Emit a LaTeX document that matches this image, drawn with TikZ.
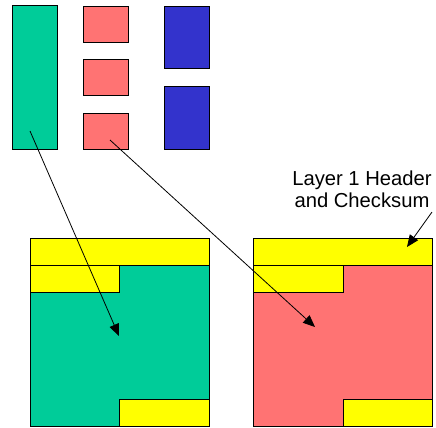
\documentclass[tikz,border=0pt]{standalone}
\usepackage{fontspec}
\setmainfont{Liberation Sans}
\usetikzlibrary{arrows.meta}
\definecolor{cgreen}{HTML}{00CC99}
\definecolor{cpink}{HTML}{FF7373}
\definecolor{cblue}{HTML}{3333CC}
\definecolor{cyellow}{HTML}{FFFF00}
\begin{document}
\begin{tikzpicture}[x=1bp,y=-1bp,
  blk/.style={draw=black,line width=0.9bp,anchor=north west,inner sep=0pt,outer sep=0pt},
  conn/.style={draw=black,line width=0.8bp,-{Triangle[length=12bp,width=10bp]}},
  lbl/.style={font=\fontsize{20.3}{22}\selectfont,align=center,inner sep=0pt}]
\useasboundingbox (0,0) rectangle (436,427);
% top row
\node[blk,fill=cgreen,minimum width=45bp,minimum height=144bp] (g) at (12,5) {};
\node[blk,fill=cpink,minimum width=45bp,minimum height=36bp] (p1) at (83,6) {};
\node[blk,fill=cpink,minimum width=45bp,minimum height=36bp] (p2) at (83,59) {};
\node[blk,fill=cpink,minimum width=45bp,minimum height=36bp] (p3) at (83,113) {};
\node[blk,fill=cblue,minimum width=45bp,minimum height=62bp] (b1) at (164,6) {};
\node[blk,fill=cblue,minimum width=45bp,minimum height=63bp] (b2) at (164,86) {};
% left square
\node[blk,fill=cgreen,minimum width=179bp,minimum height=188bp] (L) at (30,238) {};
\node[blk,fill=cyellow,minimum width=179bp,minimum height=27bp] (Lh) at (30,238) {};
\node[blk,fill=cyellow,minimum width=89bp,minimum height=27bp] (Ls) at (30,265) {};
\node[blk,fill=cyellow,minimum width=90bp,minimum height=27bp] (Lb) at (119,399) {};
% right square
\node[blk,fill=cpink,minimum width=179bp,minimum height=188bp] (R) at (253,238) {};
\node[blk,fill=cyellow,minimum width=179bp,minimum height=27bp] (Rh) at (253,238) {};
\node[blk,fill=cyellow,minimum width=90bp,minimum height=27bp] (Rs) at (253,265) {};
\node[blk,fill=cyellow,minimum width=89bp,minimum height=27bp] (Rb) at (343,399) {};
% label
\node[lbl] (t) at (362,189) {Layer 1 Header\\and Checksum};
% connector endpoints
\coordinate (gs) at (30,131);
\coordinate (ge) at (119,336);
\coordinate (ps) at (110,140);
\coordinate (pe) at (315,327);
\coordinate (ts) at (432,212);
\coordinate (te) at (407,247);
\draw[conn] (gs) -- (ge);
\draw[conn] (ps) -- (pe);
\draw[conn] (ts) -- (te);
\end{tikzpicture}
\end{document}
